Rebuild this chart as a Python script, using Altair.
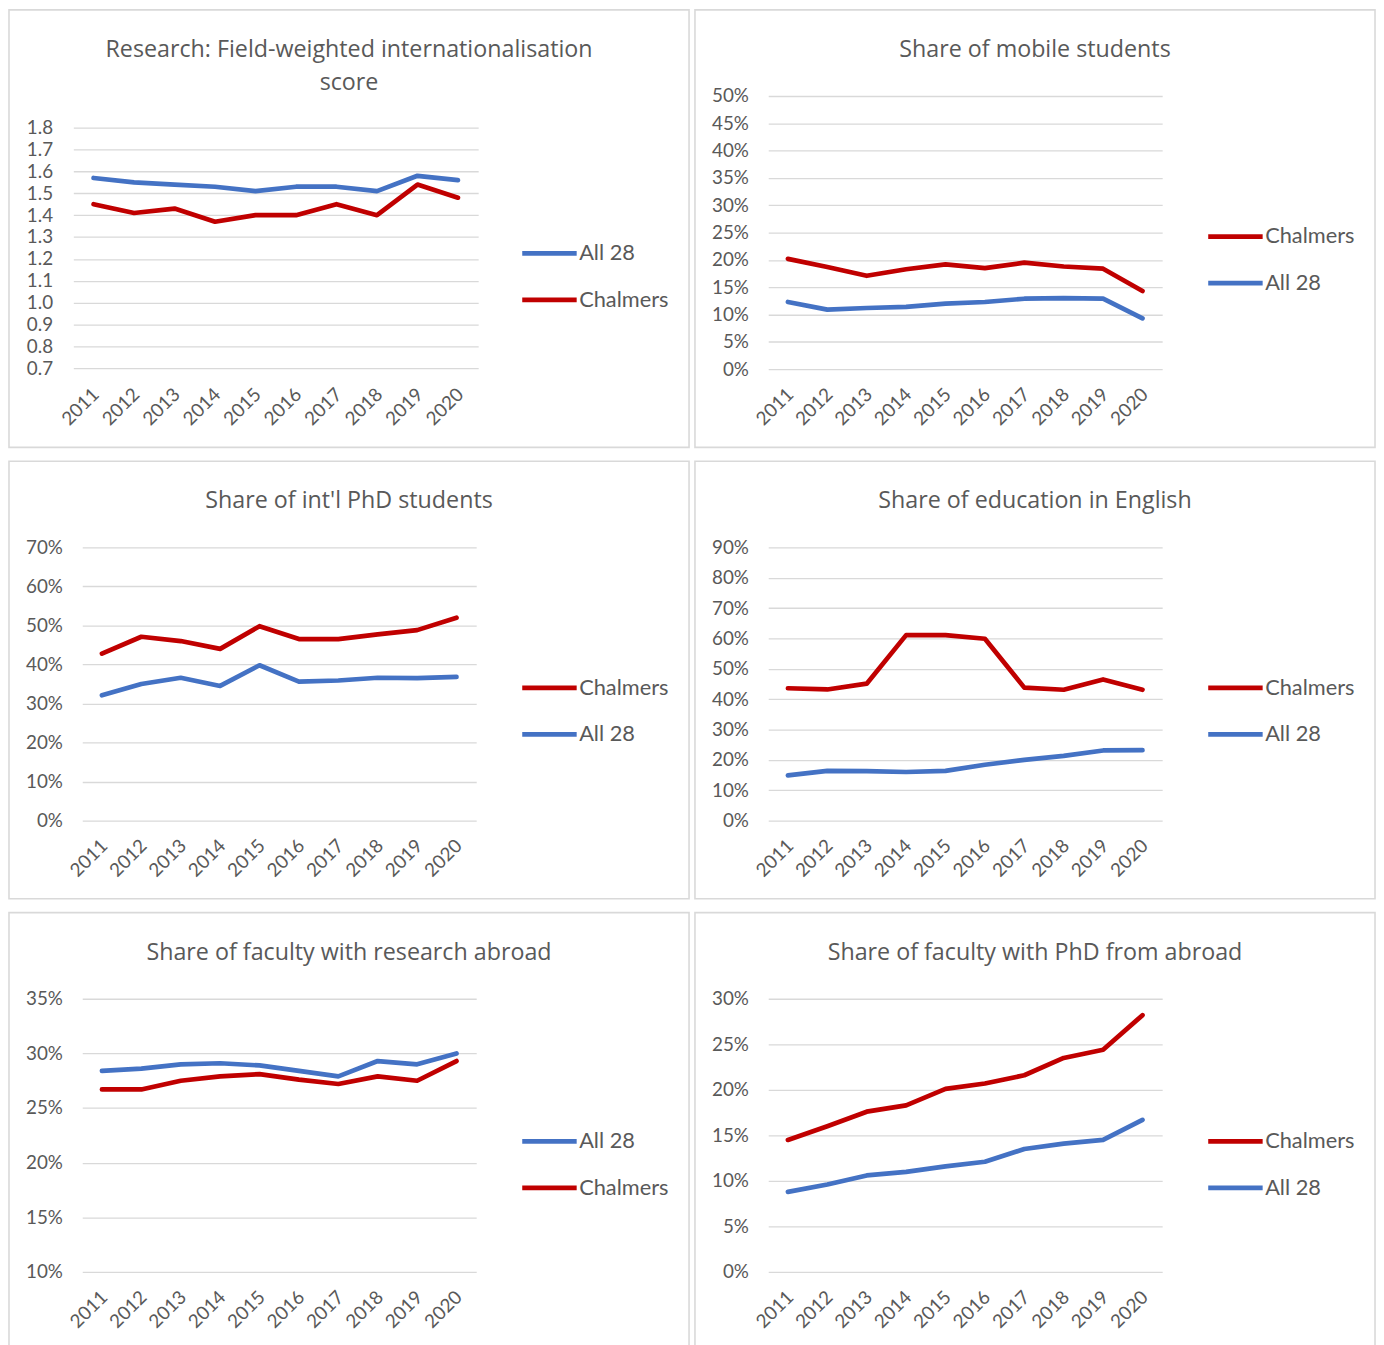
import altair as alt
import pandas as pd

years = ["2011", "2012", "2013", "2014", "2015", "2016", "2017", "2018", "2019", "2020"]

# Panel 1: Research: Field-weighted internationalisation score
t1 = ["Research: Field-weighted internationalisation", "score"]
p1_all28 = [1.57, 1.55, 1.54, 1.53, 1.51, 1.53, 1.53, 1.51, 1.58, 1.56]
p1_chalmers = [1.45, 1.41, 1.43, 1.37, 1.40, 1.40, 1.45, 1.40, 1.54, 1.48]
p1_ticks = [0.7, 0.8, 0.9, 1.0, 1.1, 1.2, 1.3, 1.4, 1.5, 1.6, 1.7, 1.8]

# Panel 2: Share of mobile students
t2 = "Share of mobile students"
p2_chalmers = [0.202, 0.187, 0.171, 0.183, 0.192, 0.185, 0.195, 0.188, 0.184, 0.143]
p2_all28 = [0.123, 0.109, 0.112, 0.114, 0.120, 0.123, 0.129, 0.130, 0.129, 0.093]
p2_ticks = [0.0, 0.05, 0.10, 0.15, 0.20, 0.25, 0.30, 0.35, 0.40, 0.45, 0.50]

# Panel 3: Share of int'l PhD students
t3 = "Share of int'l PhD students"
p3_chalmers = [0.428, 0.471, 0.460, 0.440, 0.498, 0.465, 0.465, 0.477, 0.488, 0.520]
p3_all28 = [0.321, 0.350, 0.366, 0.345, 0.398, 0.356, 0.359, 0.366, 0.365, 0.368]
p3_ticks = [0.0, 0.10, 0.20, 0.30, 0.40, 0.50, 0.60, 0.70]

# Panel 4: Share of education in English
t4 = "Share of education in English"
p4_chalmers = [0.436, 0.432, 0.451, 0.611, 0.611, 0.599, 0.438, 0.431, 0.465, 0.431]
p4_all28 = [0.149, 0.164, 0.163, 0.160, 0.164, 0.184, 0.200, 0.213, 0.231, 0.232]
p4_ticks = [0.0, 0.10, 0.20, 0.30, 0.40, 0.50, 0.60, 0.70, 0.80, 0.90]

# Panel 5: Share of faculty with research abroad
t5 = "Share of faculty with research abroad"
p5_all28 = [0.284, 0.286, 0.290, 0.291, 0.289, 0.284, 0.279, 0.293, 0.290, 0.300]
p5_chalmers = [0.267, 0.267, 0.275, 0.279, 0.281, 0.276, 0.272, 0.279, 0.275, 0.293]
p5_ticks = [0.10, 0.15, 0.20, 0.25, 0.30, 0.35]

# Panel 6: Share of faculty with PhD from abroad
t6 = "Share of faculty with PhD from abroad"
p6_chalmers = [0.145, 0.160, 0.176, 0.183, 0.201, 0.207, 0.216, 0.235, 0.244, 0.282]
p6_all28 = [0.088, 0.096, 0.106, 0.110, 0.116, 0.121, 0.135, 0.141, 0.145, 0.167]
p6_ticks = [0.0, 0.05, 0.10, 0.15, 0.20, 0.25, 0.30]

RED = "#C00000"
BLUE = "#4472C4"
GRID = "#D9D9D9"
TXT = "#595959"
LABEL_FONT = "Lato"
TITLE_FONT = "Open Sans"

# common panel geometry (plot area inside a bordered box)
BOX_W = 687
BOX_H = 442
VIEW_X = 74     # plot-area left, measured from the box's left edge
VIEW_Y = 87     # plot-area top, measured from the box's top edge
VIEW_W = 398
VIEW_H = 276


def make_panel(title, chalmers, all28, ticks, fmt, order, title_offset,
               leg_cy, y_range=None, x_range=None, ylab_pad=20):
    df = pd.DataFrame({
        "year": years * 2,
        "value": chalmers + all28,
        "series": ["Chalmers"] * len(years) + ["All 28"] * len(years),
    })
    colors = [RED if s == "Chalmers" else BLUE for s in order]
    xs = alt.Scale(range=x_range) if x_range else alt.Scale()
    if y_range:
        ys = alt.Scale(domain=[ticks[0], ticks[-1]], nice=False, zero=False, range=y_range)
    else:
        ys = alt.Scale(domain=[ticks[0], ticks[-1]], nice=False, zero=False)
    lines = alt.Chart(df).mark_line(
        strokeWidth=4.75, strokeCap="round", strokeJoin="round"
    ).encode(
        x=alt.X("year:O", sort=years, title=None, scale=xs,
                axis=alt.Axis(labelAngle=-45, labelAlign="right", labelBaseline="middle",
                              labelPadding=22, labelOffset=2, ticks=False, domain=False,
                              grid=False)),
        y=alt.Y("value:Q", title=None, scale=ys,
                axis=alt.Axis(values=ticks, format=fmt, ticks=False, domain=False,
                              grid=True, gridColor=GRID, gridWidth=1.3,
                              labelPadding=ylab_pad)),
        color=alt.Color("series:N", scale=alt.Scale(domain=order, range=colors),
                        legend=alt.Legend(title=None, orient="none", legendX=442,
                                          legendY=leg_cy - 28, symbolType="stroke",
                                          symbolSize=3025, symbolStrokeWidth=4.75,
                                          labelOffset=0, rowPadding=6, padding=0)),
    )
    border = alt.Chart(alt.Data(values=[{"b": 1}])).mark_rect(
        filled=False, color=GRID, strokeWidth=1.6
    ).encode(
        x=alt.value(-VIEW_X), x2=alt.value(BOX_W - VIEW_X),
        y=alt.value(-VIEW_Y), y2=alt.value(BOX_H - VIEW_Y),
    )
    return alt.layer(border, lines).properties(
        width=VIEW_W, height=VIEW_H,
        title=alt.TitleParams(title, anchor="middle", dx=BOX_W / 2 - VIEW_X - VIEW_W / 2,
                              offset=title_offset, fontSize=23.5, font=TITLE_FONT,
                              color=TXT, fontWeight="normal", lineHeight=33),
    )


c1 = make_panel(t1, p1_chalmers, p1_all28, p1_ticks, ".1f", ["All 28", "Chalmers"],
                -86, 157, y_range=[275, 32], x_range=[-9, 400], ylab_pad=30)
c2 = make_panel(t2, p2_chalmers, p2_all28, p2_ticks, ".0%", ["Chalmers", "All 28"],
                -53, 140)
c3 = make_panel(t3, p3_chalmers, p3_all28, p3_ticks, ".0%", ["Chalmers", "All 28"],
                -53, 140)
c4 = make_panel(t4, p4_chalmers, p4_all28, p4_ticks, ".0%", ["Chalmers", "All 28"],
                -53, 140)
c5 = make_panel(t5, p5_chalmers, p5_all28, p5_ticks, ".0%", ["All 28", "Chalmers"],
                -53, 142)
c6 = make_panel(t6, p6_chalmers, p6_all28, p6_ticks, ".0%", ["Chalmers", "All 28"],
                -53, 142)

chart = alt.concat(c1, c2, c3, c4, c5, c6, columns=2, align="none",
                   spacing={"row": 12, "column": 4}).resolve_scale(
    color="independent"
).resolve_legend(
    color="independent"
).properties(
    padding={"left": 0, "top": -6, "right": 0, "bottom": 0},
    background="white",
).configure_view(stroke=None).configure_axis(
    labelFont=LABEL_FONT, labelFontSize=19, labelColor=TXT,
).configure_legend(
    labelFont=LABEL_FONT, labelFontSize=22, labelColor=TXT,
)

chart.save("out.html", embed_options={"renderer": "svg", "actions": False})
